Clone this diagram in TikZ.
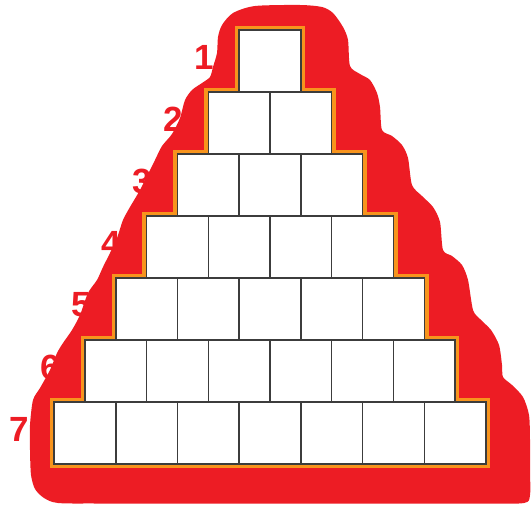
\documentclass[tikz,border=0pt]{standalone}
\usepackage{fontspec}
\setmainfont{Liberation Sans}
\definecolor{blobred}{HTML}{ED1C24}
\definecolor{rimorange}{HTML}{F7941D}
\definecolor{boxgray}{HTML}{3C3C3C}
\begin{document}
\begin{tikzpicture}[x=1pt,y=-1pt,
  cell/.style={draw=boxgray,line width=1.5pt,fill=white,minimum width=61.7pt,minimum height=62pt,inner sep=0pt,outer sep=0pt,anchor=north west},
  num/.style={text=blobred,font=\bfseries\fontsize{35}{35}\selectfont,inner sep=0pt},
  rim/.style={draw=rimorange,line width=8.5pt,line join=miter}]
\useasboundingbox (0,0) rectangle (532,506);
% red blob
\fill[blobred] plot[smooth cycle,tension=0.45] coordinates {
 (233,13) (255,6) (300,5) (322,7) (333,13) (343,27) (348,40) (350,66)
 (360,74) (370,80) (377,93) (380,107) (382,130)
 (392,136) (402,145) (408,158) (412,185)
 (422,196) (433,207) (440,222) (443,250)
 (452,256) (462,265) (468,280) (473,310)
 (480,319) (491,330) (499,345) (502,365) (503,377)
 (512,385) (523,397) (529,415) (530,440) (530,470) (530,495)
 (524,503) (480,503.5) (300,503.5) (100,503.5) (58,503) (44,498) (35,489) (31,475)
 (30,450) (30,425) (33,400)
 (40,388) (50,370) (57,353) (63,343) (72,330) (80,315) (88,293) (97,280)
 (103,267) (110,253) (117,238) (123,220) (130,207) (140,190) (150,170)
 (155,160) (162,146) (172,134) (180,118) (185,100) (192,90) (202,83)
 (210,77) (213,67) (217,53) (218,37) (222,25)};
% orange rim around the staircase
\draw[rim] (239.15,30) -- (300.85,30) -- (300.85,92) -- (331.7,92) -- (331.7,154)
  -- (362.55,154) -- (362.55,216) -- (393.4,216) -- (393.4,278) -- (424.25,278)
  -- (424.25,340) -- (455.1,340) -- (455.1,402) -- (485.95,402) -- (485.95,464)
  -- (54.05,464) -- (54.05,402) -- (84.9,402) -- (84.9,340) -- (115.75,340)
  -- (115.75,278) -- (146.6,278) -- (146.6,216) -- (177.45,216) -- (177.45,154)
  -- (208.3,154) -- (208.3,92) -- (239.15,92) -- cycle;
% boxes and row numbers
\foreach \k in {1,...,7}{
  \foreach \j in {1,...,\k}{
    \node[cell] (b\k-\j) at ({270-\k*30.85+(\j-1)*61.7},{30+62*(\k-1)}) {};
  }
  \node[num] (n\k) at ({270-\k*30.85-35},{30+62*(\k-1)+27}) {\k};
}
\end{tikzpicture}
\end{document}
